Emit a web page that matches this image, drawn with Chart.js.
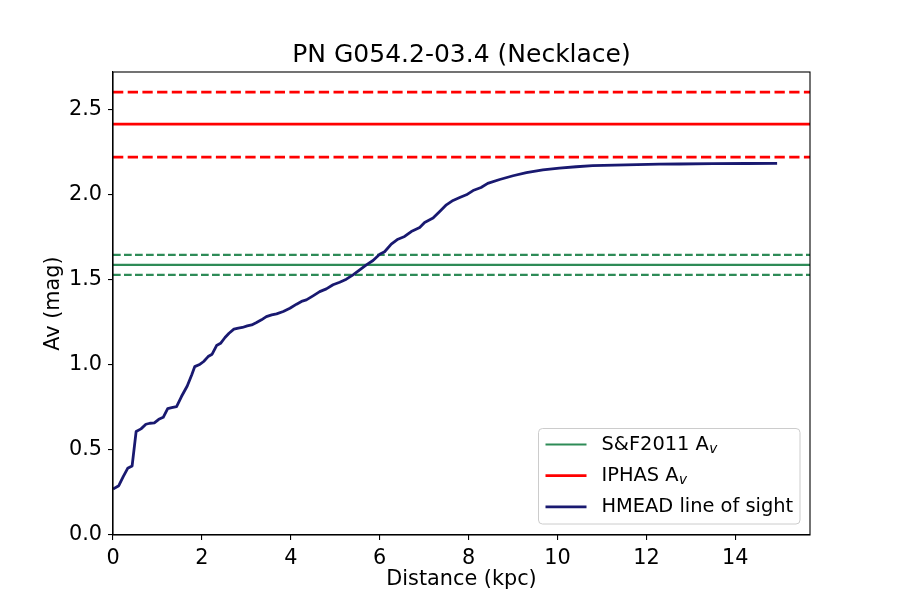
<!DOCTYPE html>
<html>
<head>
<meta charset="utf-8">
<script src="https://cdn.jsdelivr.net/npm/chart.js@4.4.1/dist/chart.umd.min.js"></script>
<style>
  html, body { margin: 0; padding: 0; background: #fff; }
  #wrap { width: 900px; height: 600px; }
</style>
</head>
<body>
<div id="wrap"><canvas id="avChart" width="900" height="600"></canvas></div>
<script>
// HMEAD line of sight
const distance = [0, 0.13, 0.23, 0.33, 0.43, 0.52, 0.63, 0.74, 0.83, 0.93, 1.03, 1.13, 1.23, 1.32, 1.43,
    1.54, 1.67, 1.77, 1.84, 1.96, 2.04, 2.14, 2.23, 2.33, 2.42, 2.52, 2.61, 2.72, 2.82, 2.91, 3.02, 3.12,
    3.23, 3.34, 3.45, 3.57, 3.68, 3.83, 3.98, 4.13, 4.24, 4.35, 4.5, 4.65, 4.8, 4.95, 5.1, 5.25, 5.4, 5.55,
    5.7, 5.85, 6.0, 6.11, 6.26, 6.41, 6.56, 6.71, 6.9, 7.01, 7.2, 7.35, 7.5, 7.65, 7.8, 7.95, 8.1, 8.28,
    8.43, 8.7, 9.0, 9.3, 9.67, 10.04, 10.42, 10.79, 11.54, 12.29, 12.74, 13.49, 14.24, 14.94];
const avHmead = [0.27, 0.29, 0.343, 0.392, 0.406, 0.608, 0.624, 0.651, 0.657, 0.659, 0.68, 0.692, 0.743, 0.749, 0.755,
    0.814, 0.876, 0.941, 0.99, 1.004, 1.02, 1.049, 1.063, 1.114, 1.127, 1.161, 1.186, 1.21, 1.216, 1.22, 1.229, 1.235,
    1.249, 1.265, 1.284, 1.294, 1.3, 1.314, 1.333, 1.357, 1.373, 1.382, 1.406, 1.431, 1.447, 1.471, 1.486, 1.504, 1.529, 1.559,
    1.588, 1.614, 1.65, 1.665, 1.71, 1.739, 1.755, 1.784, 1.808, 1.837, 1.863, 1.902, 1.941, 1.967, 1.984, 2.0, 2.025, 2.043,
    2.067, 2.09, 2.112, 2.13, 2.146, 2.157, 2.165, 2.171, 2.176, 2.18, 2.181, 2.183, 2.184, 2.185];

// reference values and their error bounds
const sfAv = [1.588, 1.529, 1.647];      // value, low, high
const iphasAv = [2.416, 2.222, 2.604];

const xRange = [0, 15.68];
const yRange = [0, 2.722];
const xTicks = [0, 2, 4, 6, 8, 10, 12, 14];
const yTicks = [0, 0.5, 1.0, 1.5, 2.0, 2.5];

const titleText = 'PN G054.2-03.4 (Necklace)';
const xLabel = 'Distance (kpc)';
const yLabel = 'Av (mag)';
const legendLabels = ['S&F2011 A', 'IPHAS A', 'HMEAD line of sight'];
const legendSubs = ['v', 'v', ''];

const FONT = "'DejaVu Sans', sans-serif";
const GREEN = '#2e8b57';
const RED = '#ff0000';
const NAVY = '#191970';

function hline(y, color, width, dash) {
    return {
        data: [{ x: xRange[0], y: y }, { x: xRange[1], y: y }],
        borderColor: color,
        borderWidth: width,
        borderDash: dash,
        pointRadius: 0,
        tension: 0,
    };
}

const datasets = [
    {
        data: distance.map((d, i) => ({ x: d, y: avHmead[i] })),
        borderColor: NAVY,
        borderWidth: 2.8,
        pointRadius: 0,
        tension: 0,
        borderJoinStyle: 'round',
    },
    hline(iphasAv[0], RED, 2.8, []),
    hline(iphasAv[1], RED, 2.8, [10.3, 4.4]),
    hline(iphasAv[2], RED, 2.8, [10.3, 4.4]),
    hline(sfAv[0], GREEN, 2.1, []),
    hline(sfAv[1], GREEN, 2.1, [7.7, 3.3]),
    hline(sfAv[2], GREEN, 2.1, [7.7, 3.3]),
];

// axes frame + matplotlib-like legend inside the plot
const framePlugin = {
    id: 'frame',
    afterDraw(chart) {
        const { ctx, chartArea: a } = chart;
        ctx.save();
        ctx.strokeStyle = '#000';
        ctx.lineWidth = 1.1;
        ctx.strokeRect(a.left, a.top, a.right - a.left, a.bottom - a.top);

        // legend box
        const w = 261.5, h = 95.5;
        const bx = a.right - 10 - w, by = a.bottom - 11 - h;
        ctx.beginPath();
        ctx.roundRect(bx, by, w, h, 4);
        ctx.fillStyle = 'rgba(255,255,255,0.8)';
        ctx.fill();
        ctx.strokeStyle = '#cccccc';
        ctx.lineWidth = 1;
        ctx.stroke();

        const colors = [GREEN, RED, NAVY];
        const widths = [2.1, 2.8, 2.8];
        for (let i = 0; i < legendLabels.length; i++) {
            const y = by + 16 + i * 31.2;
            ctx.beginPath();
            ctx.moveTo(bx + 7, y);
            ctx.lineTo(bx + 48, y);
            ctx.strokeStyle = colors[i];
            ctx.lineWidth = widths[i];
            ctx.stroke();

            ctx.fillStyle = '#000';
            ctx.textBaseline = 'middle';
            ctx.textAlign = 'left';
            ctx.font = '19.4px ' + FONT;
            const tx = bx + 63;
            ctx.fillText(legendLabels[i], tx, y);
            if (legendSubs[i]) {
                const tw = ctx.measureText(legendLabels[i]).width;
                ctx.font = 'italic 13.6px ' + FONT;
                ctx.fillText(legendSubs[i], tx + tw + 0.5, y + 5);
            }
        }
        ctx.restore();
    }
};

const ctx = document.getElementById('avChart').getContext('2d');
const avChart = new Chart(ctx, {
    type: 'line',
    data: { datasets: datasets },
    options: {
        responsive: false,
        animation: false,
        layout: { padding: { left: 0, right: 90, top: 0, bottom: 0 } },
        plugins: {
            legend: { display: false },
            tooltip: { enabled: false },
            title: {
                display: true,
                fullSize: false,
                text: titleText,
                color: '#000',
                font: { family: FONT, size: 25, weight: 'normal' },
                padding: { top: 40, bottom: 2 },
            },
        },
        scales: {
            x: {
                type: 'linear',
                min: xRange[0],
                max: xRange[1],
                afterBuildTicks: s => { s.ticks = xTicks.map(v => ({ value: v })); },
                afterFit: s => { s.height = 65; },
                ticks: {
                    color: '#000',
                    font: { family: FONT, size: 20.8 },
                    padding: 6,
                    maxRotation: 0,
                    callback: v => String(v),
                },
                grid: { drawOnChartArea: false, drawTicks: true, tickLength: 5, color: '#000', lineWidth: 1.1 },
                border: { display: true, color: '#000', width: 1.1 },
                title: {
                    display: true,
                    text: xLabel,
                    color: '#000',
                    font: { family: FONT, size: 20.8 },
                    padding: { top: 0, bottom: 8 },
                },
            },
            y: {
                type: 'linear',
                min: yRange[0],
                max: yRange[1],
                afterBuildTicks: s => { s.ticks = yTicks.map(v => ({ value: v })); },
                afterFit: s => { s.width = 113; },
                ticks: {
                    color: '#000',
                    font: { family: FONT, size: 20.8 },
                    padding: 6,
                    callback: v => Number(v).toFixed(1),
                },
                grid: { drawOnChartArea: false, drawTicks: true, tickLength: 5, color: '#000', lineWidth: 1.1 },
                border: { display: true, color: '#000', width: 1.1 },
                title: {
                    display: true,
                    text: yLabel,
                    color: '#000',
                    font: { family: FONT, size: 20.8 },
                    padding: { top: 41, bottom: 0 },
                },
            },
        },
    },
    plugins: [framePlugin],
});
</script>
</body>
</html>
